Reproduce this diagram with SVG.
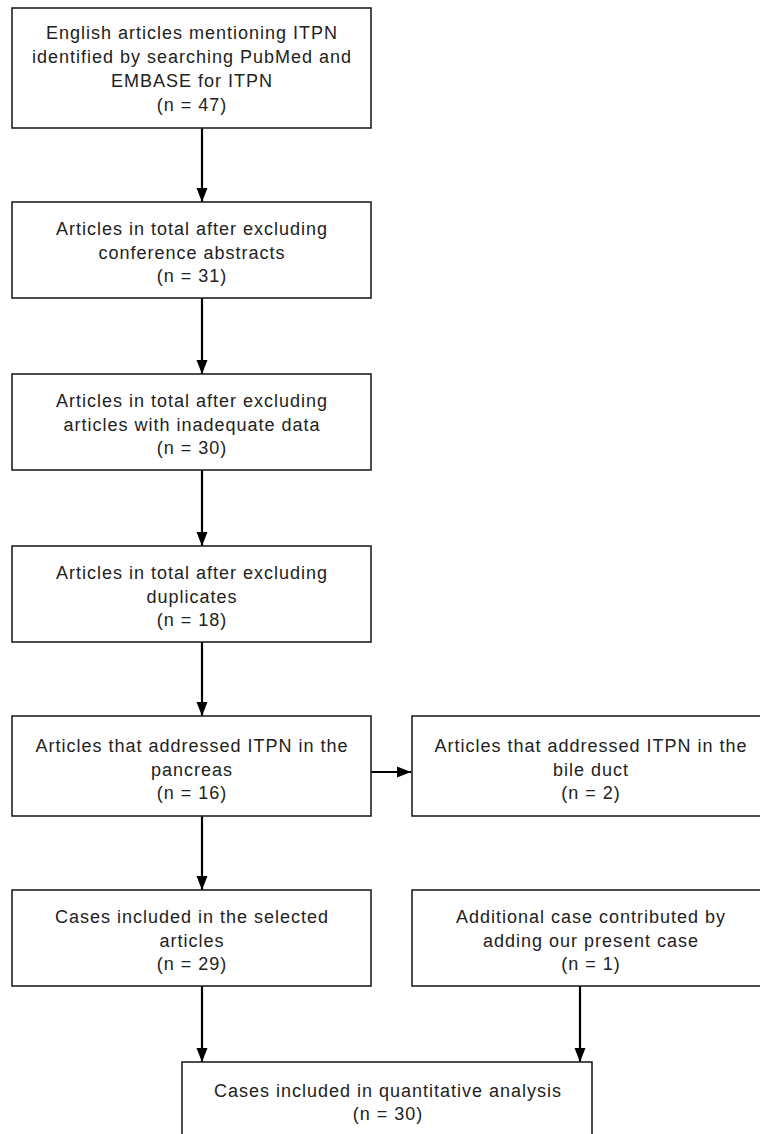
<svg xmlns="http://www.w3.org/2000/svg" width="760" height="1134" viewBox="0 0 760 1134">
<defs>
<style>
.box{fill:#fff;stroke:#222;stroke-width:1.6}
.t{font-family:"Liberation Sans",Arial,sans-serif;font-size:18px;letter-spacing:1px;fill:#222;text-anchor:middle}
.c{stroke:#000;stroke-width:2.2;fill:none;marker-end:url(#ah)}
</style>
<marker id="ah" markerUnits="userSpaceOnUse" markerWidth="14" markerHeight="14" viewBox="0 0 14 14" refX="14" refY="7" orient="auto">
<path d="M0,1.5 L14,7 L0,12.5 Z" fill="#000"/>
</marker>
</defs>
<rect width="760" height="1134" fill="#fff"/>
<g id="connectors">
<line class="c" x1="202" y1="128" x2="202" y2="202"/>
<line class="c" x1="202" y1="298" x2="202" y2="374"/>
<line class="c" x1="202" y1="470" x2="202" y2="546"/>
<line class="c" x1="202" y1="642" x2="202" y2="716"/>
<line class="c" x1="371" y1="772" x2="411" y2="772"/>
<line class="c" x1="202" y1="816" x2="202" y2="890"/>
<line class="c" x1="202" y1="986" x2="202" y2="1062"/>
<line class="c" x1="580" y1="986" x2="580" y2="1062"/>
</g>
<g id="n1">
<rect class="box" x="12" y="8" width="359" height="120"/>
<text class="t" x="192" y="39">English articles mentioning ITPN</text>
<text class="t" x="192" y="63">identified by searching PubMed and</text>
<text class="t" x="192" y="87">EMBASE for ITPN</text>
<text class="t" x="192" y="111">(n = 47)</text>
</g>
<g id="n2">
<rect class="box" x="12" y="202" width="359" height="96"/>
<text class="t" x="192" y="235">Articles in total after excluding</text>
<text class="t" x="192" y="259">conference abstracts</text>
<text class="t" x="192" y="282">(n = 31)</text>
</g>
<g id="n3">
<rect class="box" x="12" y="374" width="359" height="96"/>
<text class="t" x="192" y="407">Articles in total after excluding</text>
<text class="t" x="192" y="431">articles with inadequate data</text>
<text class="t" x="192" y="454">(n = 30)</text>
</g>
<g id="n4">
<rect class="box" x="12" y="546" width="359" height="96"/>
<text class="t" x="192" y="579">Articles in total after excluding</text>
<text class="t" x="192" y="603">duplicates</text>
<text class="t" x="192" y="626">(n = 18)</text>
</g>
<g id="n5">
<rect class="box" x="12" y="716" width="359" height="100"/>
<text class="t" x="192" y="752">Articles that addressed ITPN in the</text>
<text class="t" x="192" y="776">pancreas</text>
<text class="t" x="192" y="799">(n = 16)</text>
</g>
<g id="n6">
<rect class="box" x="412" y="716" width="360" height="100"/>
<text class="t" x="591" y="752">Articles that addressed ITPN in the</text>
<text class="t" x="591" y="776">bile duct</text>
<text class="t" x="591" y="799">(n = 2)</text>
</g>
<g id="n7">
<rect class="box" x="12" y="890" width="359" height="96"/>
<text class="t" x="192" y="923">Cases included in the selected</text>
<text class="t" x="192" y="947">articles</text>
<text class="t" x="192" y="970">(n = 29)</text>
</g>
<g id="n8">
<rect class="box" x="412" y="890" width="360" height="96"/>
<text class="t" x="591" y="923">Additional case contributed by</text>
<text class="t" x="591" y="947">adding our present case</text>
<text class="t" x="591" y="970">(n = 1)</text>
</g>
<g id="n9">
<rect class="box" x="182" y="1062" width="410" height="90"/>
<text class="t" x="388" y="1097">Cases included in quantitative analysis</text>
<text class="t" x="388" y="1120">(n = 30)</text>
</g>
</svg>
